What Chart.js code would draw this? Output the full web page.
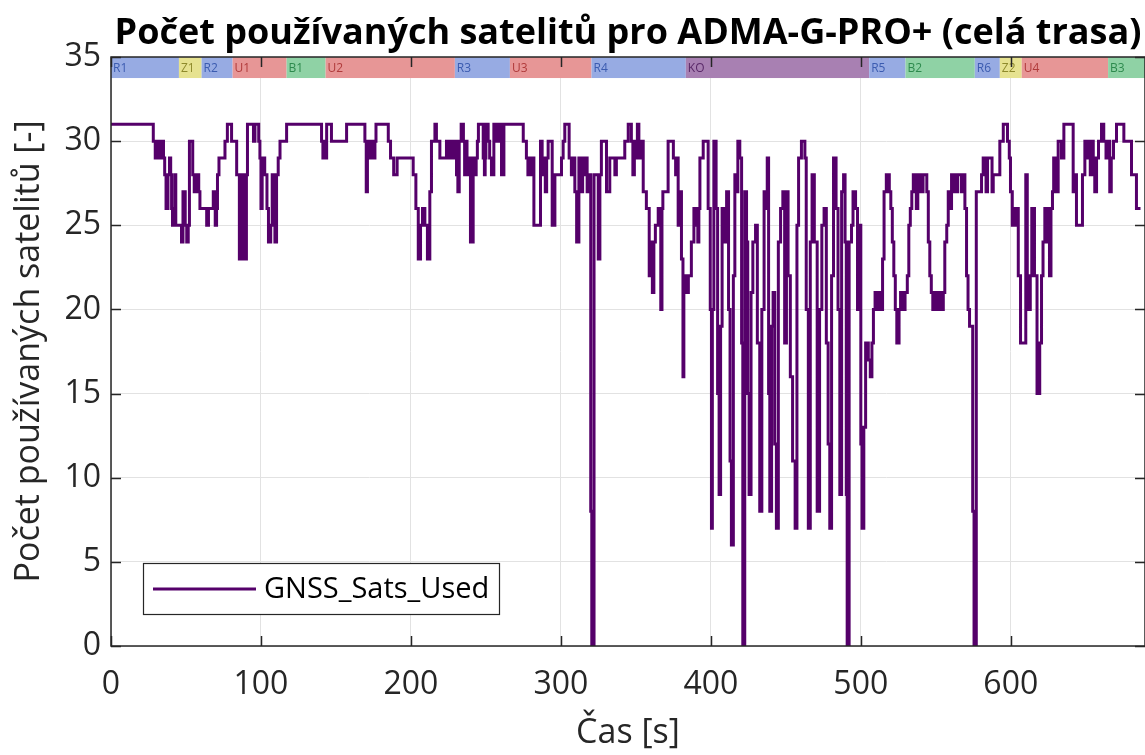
<!DOCTYPE html>
<html>
<head>
<meta charset="utf-8">
<script src="https://cdn.jsdelivr.net/npm/chart.js@4.4.0/dist/chart.umd.min.js"></script>
<style>
  html, body { margin: 0; padding: 0; background: #fff; }
  #wrap { width: 1145px; height: 755px; }
</style>
</head>
<body>
<div id="wrap"><canvas id="chart" width="1145" height="755"></canvas></div>
<script>
// texts
const chartTitle = 'Počet používaných satelitů pro ADMA-G-PRO+ (celá trasa)';
const xTitle = 'Čas [s]';
const yTitle = 'Počet používaných satelitů [-]';
const seriesName = 'GNSS_Sats_Used';

// time [s] and number of satellites (value holds until the next time)
const times = [
  0, 28.2, 29.5, 30.3, 31, 31.8, 33.5, 34.2, 35, 35.8, 36.7, 38, 39, 39.8, 40.4, 41, 42.5, 43.2,
  47, 48, 49.5, 50.5, 51.5, 52.3, 54.5, 55.5, 56.5, 58.5, 59.3, 63.8, 65, 68.2, 69.5, 70.4, 71, 72,
  76, 77.6, 80.4, 83.8, 85.6, 87, 88.7, 90.3, 91, 95, 96, 98.5, 99.3, 100, 100.8, 102.5, 104, 105,
  106.5, 107.5, 108.5, 109.3, 110.4, 111.5, 112.7, 117.1, 140.4, 141.3, 142.3, 143, 143.8, 147,
  157.1, 169.3, 170.2, 171, 172, 173, 174, 175, 176, 176.7, 184.9, 186.4, 188.5, 190.8,
  201.5, 203.3, 204.9, 206.4, 207.7, 209.3, 211, 212.6, 213.7, 216, 217, 219.3, 223.7, 224.5, 225.2,
  226, 227, 228, 229, 230.4, 231.3, 232.2, 233.5, 235, 235.8, 236.6, 237.4, 238.2, 239.7, 241.5,
  242.5, 243.5, 244.3, 245, 248.2, 249, 249.5, 250, 251.5, 252.5, 253.7, 255.3, 256.5, 257.3, 258.5,
  259.3, 260.4, 262, 274.9, 277, 278, 279, 280, 281, 282, 286.4, 287.5, 288.5, 289.6, 290.5, 291.5,
  294.2, 296, 300.4, 301.5, 302.6, 305.5, 307, 308, 309.3, 310.5, 312, 313.5, 314.5, 315.5, 316.5,
  317.5, 318.3, 319.9, 320.6, 322.1, 324.9, 326, 327, 330.4, 332.6, 336, 337, 342.6, 344.9, 347, 348,
  349, 350, 351, 352, 353, 354.9, 357, 358.9, 360, 361, 362, 363, 364.9, 366.6, 367.4, 368, 371.5,
  375, 376.5, 377.5, 378.2, 379.5, 380.4, 381.4, 382, 384, 385, 387, 388.7, 390.4, 391.3, 392, 392.7,
  394.9, 398.2, 399.6, 400.4,
  401, 402, 403.5, 404.5, 405.5, 406.5, 407.5, 409, 410.5, 411.8, 412.8, 413.7, 415, 416, 417, 418,
  419.3, 420.5, 421.3, 422.6, 423.8, 424.6, 425.5, 426.8, 428, 429.8, 431, 432.6, 434, 435.5, 436.8,
  437.6, 438.5, 439.3, 440.5, 441.5, 442.6, 443.7, 445, 446.5, 448, 449.2, 450.4, 451.5, 453, 454.5,
  456.2, 457.4, 458.5, 460.4, 462.7, 463.6, 465, 466.3, 467.5, 469, 470.9, 472.5, 474, 475.5, 477,
  478.2, 479.3, 480.5, 481.8, 483.5, 484.8, 486, 487.2, 488.5, 489.5, 490.3, 490.9, 492.2, 493.8,
  494.8, 496.5, 497.8, 499, 500, 500.8,
  502, 503.2, 505, 506.3, 507.4, 508.4, 509.5, 511, 512, 513.5, 514.5, 515.5, 517, 519, 520, 521,
  522, 523, 524, 525.5, 526.5, 528, 529.5, 531, 532, 533, 534, 535, 537, 538, 539, 540.5, 541.5,
  544, 545, 546, 547, 548, 549, 550.5, 552, 553.5, 555, 556, 557.3, 558.3, 559.5, 560.5, 561.5,
  562.5, 563.5, 564.5, 567, 568, 569.4, 570.5, 571.5, 572.5, 574.6, 575.5, 577, 580.5, 581.6, 583.5,
  584.5, 587.5, 588.3, 592.7, 595, 597.8, 599, 599.8, 601, 602, 603, 604, 605, 606.5, 610, 611, 612,
  613, 614, 615.8, 617.5, 619.3, 620.5, 621.5, 622.7, 624, 625, 625.8, 626.8, 627.8, 628.6, 630.5,
  631.6, 633.8, 635.4, 641.6, 642.7, 643.8, 647.8, 649.4, 651, 652, 653, 654, 655, 656, 657.2, 658.5,
  660.5, 662, 663.5, 665, 666, 667, 668.5, 670.5, 675.4, 680.5, 683.8, 686.5
];
const sats = [
  31, 30, 29, 30, 29, 30, 29, 30, 29, 28, 26, 28, 29, 28, 26, 25, 28, 25,
  24, 27, 25, 24, 25, 30, 28, 27, 28, 27, 26, 25, 26, 27, 25, 26, 28, 29,
  30, 31, 30, 28, 23, 28, 23, 28, 31, 30, 31, 30, 29, 26, 29, 28, 26, 24,
  25, 28, 27, 24, 28, 29, 30, 31, 30, 29, 30, 29, 31, 30,
  31, 30, 27, 29, 30, 29, 30, 29, 30, 31, 30, 29, 28, 29,
  28, 26, 23, 25, 26, 25, 23, 27, 30, 31, 30, 29, 30, 29, 30,
  29, 30, 29, 30, 28, 27, 30, 31, 30, 28, 30, 28, 29, 24, 29,
  28, 29, 30, 31, 29, 28, 29, 31, 30, 29, 28, 31, 30, 31, 30,
  31, 28, 31, 30, 29, 28, 29, 28, 29, 25, 30, 28, 29, 27, 29, 30,
  25, 28, 29, 30, 31, 29, 28, 29, 27, 24, 29, 27, 29, 28, 29,
  27, 28, 8, 0, 28, 23, 28, 30, 27, 29, 28, 29, 30, 31, 30, 28,
  30, 29, 31, 29, 30, 27, 26, 22, 24, 21, 24, 25, 26, 20, 26, 27, 30,
  29, 28, 29, 25, 27, 23, 16, 22, 21, 22, 24, 26, 25, 24, 26, 29,
  30, 26, 20, 7,
  20, 30, 26, 15, 9, 19, 26, 24, 27, 20, 11, 6, 22, 28, 27, 30,
  29, 18, 0, 27, 24, 15, 9, 21, 24, 25, 18, 8, 20, 27, 26,
  29, 15, 8, 19, 21, 12, 7, 24, 26, 27, 18, 27, 22, 16, 11,
  7, 25, 29, 30, 29, 20, 7, 24, 28, 24, 8, 20, 25, 26, 18,
  12, 7, 22, 29, 26, 20, 9, 27, 28, 24, 9, 0, 24, 25,
  27, 26, 20, 25, 12, 7,
  13, 18, 17, 16, 18, 20, 21, 20, 21, 20, 23, 27, 28, 27, 26, 24,
  22, 20, 18, 20, 21, 20, 21, 22, 25, 26, 27, 28, 26, 27, 28, 27, 28,
  27, 24, 22, 21, 20, 21, 20, 21, 20, 21, 24, 25, 27, 26, 28, 27,
  28, 27, 28, 27, 28, 26, 22, 20, 19, 8, 0, 27, 28, 29, 27,
  29, 27, 28, 30, 31, 30, 29, 27, 25, 26, 25, 26, 22, 18, 28, 21, 20,
  22, 26, 22, 15, 18, 22, 24, 26, 24, 26, 22, 26, 27, 29, 27,
  30, 29, 31, 27, 28, 25, 28, 30, 29, 30, 28, 30, 29, 27, 29, 30,
  31, 30, 29, 30, 27, 29, 30, 31, 30, 28, 26, 26
];

// route sections shown as the strip at the top
const bandLabels = ['R1', 'Z1', 'R2', 'U1', 'B1', 'U2', 'R3', 'U3', 'R4', 'KO', 'R5', 'B2', 'R6', 'Z2', 'U4', 'B3'];
const bandStart = [0, 45.3, 60.4, 81.1, 117.1, 143.1, 229.3, 266, 320.4, 383.3, 505.6, 529.8, 576, 592.7, 607.3, 664.9];
const bandEnd = [45.3, 60.4, 81.1, 117.1, 143.1, 229.3, 266, 320.4, 383.3, 505.6, 529.8, 576, 592.7, 607.3, 664.9, 690];

// axes
const xTicks = [0, 100, 200, 300, 400, 500, 600];
const yTicks = [0, 5, 10, 15, 20, 25, 30, 35];

const FONT = '"Open Sans", "Noto Sans", sans-serif';
const lineColor = '#55006a';
const axisColor = '#262626';
const bandStyle = {
  R: ['#97abe3', '#3b5bb0'],
  Z: ['#e6e290', '#8e8a2c'],
  U: ['#e79696', '#b03b3b'],
  B: ['#8fd2a5', '#2d8a4d'],
  K: ['#a880b2', '#5a2868']
};

const bandsPlugin = {
  id: 'bands',
  beforeDatasetsDraw(chart) {
    const { ctx, chartArea } = chart;
    const xs = chart.scales.x, ys = chart.scales.y;
    const top = ys.getPixelForValue(35), bot = ys.getPixelForValue(33.75);
    ctx.save();
    ctx.beginPath();
    ctx.rect(chartArea.left, chartArea.top, chartArea.right - chartArea.left, chartArea.bottom - chartArea.top);
    ctx.clip();
    bandLabels.forEach((lab, i) => {
      const st = bandStyle[lab[0]];
      const x0 = xs.getPixelForValue(bandStart[i]);
      const x1 = xs.getPixelForValue(bandEnd[i]);
      ctx.fillStyle = st[0];
      ctx.fillRect(x0, top, x1 - x0, bot - top);
      ctx.fillStyle = st[1];
      ctx.font = '12px ' + FONT;
      ctx.textAlign = 'left';
      ctx.textBaseline = 'middle';
      ctx.fillText(lab, x0 + 2, (top + bot) / 2 + 1);
    });
    ctx.restore();
  }
};

const framePlugin = {
  id: 'frame',
  afterDraw(chart) {
    const { ctx, chartArea: a } = chart;
    const xs = chart.scales.x, ys = chart.scales.y;
    const tl = 10;
    ctx.save();
    // inward tick marks on all four sides
    ctx.strokeStyle = axisColor;
    ctx.lineWidth = 1.5;
    ctx.beginPath();
    xTicks.forEach(v => {
      const px = Math.round(xs.getPixelForValue(v)) + 0.5;
      ctx.moveTo(px, a.bottom); ctx.lineTo(px, a.bottom - tl);
      ctx.moveTo(px, a.top); ctx.lineTo(px, a.top + tl);
    });
    yTicks.forEach(v => {
      const py = Math.round(ys.getPixelForValue(v)) + 0.5;
      ctx.moveTo(a.left, py); ctx.lineTo(a.left + tl, py);
      ctx.moveTo(a.right, py); ctx.lineTo(a.right - tl, py);
    });
    ctx.stroke();
    ctx.strokeRect(a.left, a.top, a.right - a.left, a.bottom - a.top);

    // legend
    const lx = a.left + 32, ly = a.bottom - 83, lw = 356, lh = 51;
    ctx.fillStyle = '#fff';
    ctx.fillRect(lx, ly, lw, lh);
    ctx.lineWidth = 1.2;
    ctx.strokeRect(lx + 0.5, ly + 0.5, lw, lh);
    ctx.strokeStyle = lineColor;
    ctx.lineWidth = 3;
    ctx.beginPath();
    ctx.moveTo(lx + 10, ly + 26); ctx.lineTo(lx + 113, ly + 26);
    ctx.stroke();
    ctx.fillStyle = '#000';
    ctx.font = '29px ' + FONT;
    ctx.textAlign = 'left';
    ctx.textBaseline = 'middle';
    ctx.fillText(chart.data.datasets[0].label, lx + 121, ly + 27);

    // title, centred over the axes, sized to the reference width
    let size = 36;
    ctx.font = 'bold ' + size + 'px ' + FONT;
    const w = ctx.measureText(chartTitle).width;
    size = size * 1028 / w;
    ctx.font = 'bold ' + size.toFixed(1) + 'px ' + FONT;
    ctx.fillStyle = '#000';
    ctx.textAlign = 'center';
    ctx.textBaseline = 'alphabetic';
    ctx.fillText(chartTitle, (a.left + a.right) / 2, 44);
    ctx.restore();
  }
};

const ctx = document.getElementById('chart').getContext('2d');
new Chart(ctx, {
  type: 'line',
  data: {
    datasets: [{
      label: seriesName,
      data: times.map((t, i) => ({ x: t, y: sats[i] })),
      borderColor: lineColor,
      borderWidth: 3,
      pointRadius: 0,
      stepped: 'before',
      fill: false
    }]
  },
  options: {
    responsive: false,
    animation: false,
    devicePixelRatio: 1,
    layout: { padding: { top: 57, right: 0, left: 0, bottom: 0 } },
    plugins: { legend: { display: false }, tooltip: { enabled: false }, title: { display: false } },
    scales: {
      x: {
        type: 'linear', min: 0, max: 689.5,
        afterBuildTicks: s => { s.ticks = xTicks.map(v => ({ value: v })); },
        afterFit: s => { s.height = 109; },
        grid: { color: '#e2e2e2', lineWidth: 1, drawTicks: false },
        border: { display: false },
        ticks: { autoSkip: false, maxRotation: 0, padding: 20, color: axisColor, font: { family: FONT, size: 32 } },
        title: { display: true, text: xTitle, color: axisColor, padding: { top: 0, bottom: 1 }, font: { family: FONT, size: 34 } }
      },
      y: {
        type: 'linear', min: 0, max: 35,
        afterBuildTicks: s => { s.ticks = yTicks.map(v => ({ value: v })); },
        afterFit: s => { s.width = 111; },
        grid: { color: '#e2e2e2', lineWidth: 1, drawTicks: false },
        border: { display: false },
        ticks: { autoSkip: false, padding: 10, color: axisColor, font: { family: FONT, size: 32 } },
        title: { display: true, text: yTitle, color: axisColor, padding: { top: 9, bottom: 0 }, font: { family: FONT, size: 34 } }
      }
    }
  },
  plugins: [bandsPlugin, framePlugin]
});
</script>
</body>
</html>
